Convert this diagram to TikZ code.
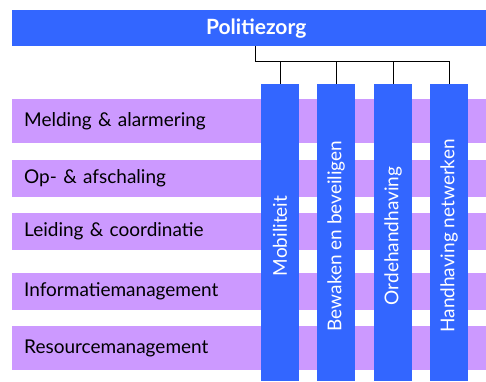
\documentclass[tikz,border=0pt]{standalone}
\usepackage{fontspec}
\setmainfont{Lato}
\definecolor{barblue}{HTML}{3366FF}
\definecolor{rowpurple}{HTML}{CC99FF}
\begin{document}
\begin{tikzpicture}[x=1pt,y=-1pt,
  rowbox/.style={fill=rowpurple, draw=none, anchor=north west, minimum width=474pt,
    text width=450pt, align=left, inner xsep=12pt, inner ysep=0pt, font=\fontsize{19}{22}\selectfont, text=black},
  colbox/.style={fill=barblue, draw=none, anchor=north west, minimum width=38pt, minimum height=297pt, inner sep=0pt},
  coltext/.style={rotate=90, text=white, font=\fontsize{19}{22}\selectfont, inner sep=0pt},
  topbar/.style={fill=barblue, draw=none, anchor=north west, minimum width=474pt, minimum height=36pt, inner sep=0pt,
    text=white, font=\bfseries\fontsize{21}{24}\selectfont},
  conn/.style={draw=black, line width=0.9pt}]
\useasboundingbox (0,0) rectangle (486,381);
% title bar
\node[topbar] (top) at (12,10) {\hspace{14pt}Politiezorg};
% rows
\node[rowbox, minimum height=44pt] (r1) at (12,99) {Melding \& alarmering};
\node[rowbox, minimum height=37pt] (r2) at (12,160) {Op- \& afschaling};
\node[rowbox, minimum height=37pt] (r3) at (12,213) {Leiding \& coordinatie};
\node[rowbox, minimum height=37pt] (r4) at (12,273) {Informatiemanagement};
\node[rowbox, minimum height=44pt] (r5) at (12,326) {Resourcemanagement};
% columns
\node[colbox] (c1) at (261,84) {};
\node[colbox] (c2) at (317,84) {};
\node[colbox] (c3) at (374,84) {};
\node[colbox] (c4) at (430,84) {};
\node[coltext] (t1) at (280,236) {Mobiliteit};
\node[coltext] (t2) at (336,236) {Bewaken en beveiligen};
\node[coltext] (t3) at (393,236) {Ordehandhaving};
\node[coltext] (t4) at (449,236) {Handhaving netwerken};
% connectors
\coordinate (bus) at (255,61);
\draw[conn] (top.south -| bus) -- (bus) -- (c4.north |- bus) -- (c4.north);
\draw[conn] (c1.north |- bus) -- (c1.north);
\draw[conn] (c2.north |- bus) -- (c2.north);
\draw[conn] (c3.north |- bus) -- (c3.north);
\end{tikzpicture}
\end{document}
